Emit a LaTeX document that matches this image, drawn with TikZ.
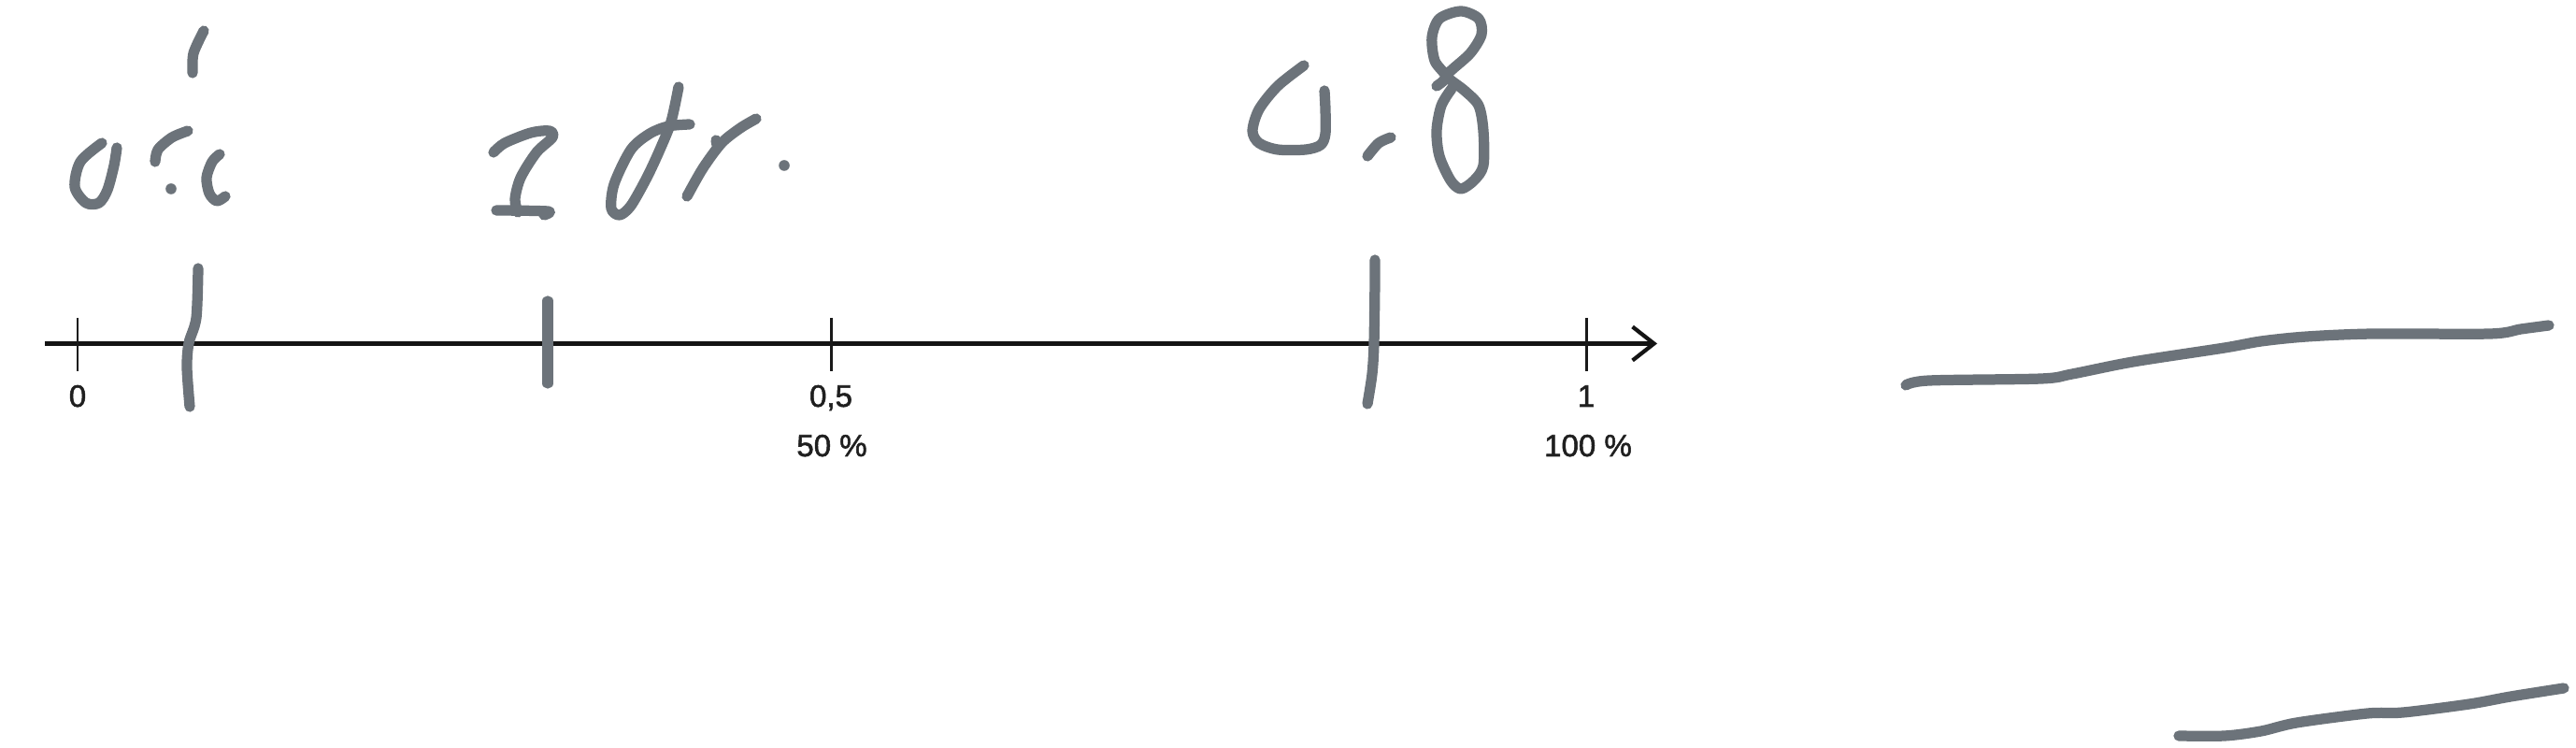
\documentclass[tikz,border=0pt]{standalone}
\usepackage{fontspec}
\setmainfont{Liberation Sans}
\newfontfamily\nlfont{Liberation Sans}[FakeBold=1.6]
\usepackage{xcolor}
\usepackage{tikz}
\usetikzlibrary{arrows.meta}
\definecolor{pengray}{RGB}{108,115,122}
\tikzset{
  nlaxis/.style={line width=1.4pt, draw=black!92, -{Straight Barb[length=2.3mm,width=3.6mm,line width=1.2pt]}},
  nltick/.style={line width=0.85pt, draw=black!90},
  nllabel/.style={font=\nlfont\fontsize{9.4}{11}\selectfont, anchor=base, inner sep=0pt, text=black!88},
  penstroke/.style={line width=3.2pt, draw=pengray, line cap=round, line join=round},
  pendot/.style={fill=pengray, draw=none},
}
\begin{document}
\begin{tikzpicture}
\useasboundingbox (0,0) rectangle (27.56,8.00);
\coordinate (ax0) at (0.48,4.325);
\coordinate (ax1) at (17.73,4.325);
\draw[nlaxis] (ax0) -- (ax1);
\draw[nltick] (0.83,4.60) -- (0.83,4.03);
\draw[nltick] (8.89,4.60) -- (8.89,4.03);
\draw[nltick] (16.97,4.60) -- (16.97,4.03);
\node[nllabel] (lzero) at (0.83,3.65) {0};
\node[nllabel] (lhalf) at (8.89,3.65) {0,5};
\node[nllabel] (lone) at (16.97,3.65) {1};
\node[nllabel] (phalf) at (8.90,3.12) {50 \%};
\node[nllabel] (pone) at (16.99,3.12) {100 \%};
\draw[penstroke] plot[smooth] coordinates {(2.12,5.13) (2.10,4.60) (2.02,4.33) (2.00,4.07) (2.03,3.65)};
\draw[penstroke] (5.86,4.78) -- (5.86,3.90);
\draw[penstroke] plot[smooth] coordinates {(14.71,5.22) (14.71,5.00) (14.70,4.33) (14.68,4.00) (14.63,3.68)};
\draw[penstroke] plot[smooth] coordinates {(1.09,6.47) (0.86,6.27) (0.80,6.00) (0.92,5.83) (1.06,5.83) (1.15,5.97) (1.22,6.23) (1.25,6.42)};
\draw[penstroke] plot[smooth] coordinates {(2.01,6.60) (1.84,6.53) (1.69,6.40) (1.66,6.27)};
\fill[pendot] (1.83,5.98) circle (0.058);
\draw[penstroke] plot[smooth] coordinates {(2.35,6.35) (2.27,6.27) (2.21,6.10) (2.24,5.93) (2.32,5.85) (2.41,5.90)};
\draw[penstroke] plot[smooth] coordinates {(2.18,7.67) (2.07,7.43) (2.06,7.22)};
\draw[penstroke] plot[smooth] coordinates {(5.28,6.37) (5.40,6.47) (5.68,6.58) (5.88,6.60) (5.91,6.53) (5.74,6.37) (5.57,6.10) (5.51,5.87) (5.54,5.73)};
\draw[penstroke] plot[smooth] coordinates {(5.31,5.75) (5.86,5.74) (5.82,5.70)};
\draw[penstroke] plot[smooth] coordinates {(7.26,7.07) (7.18,6.70) (7.06,6.40) (6.92,6.10) (6.75,5.80) (6.63,5.70) (6.54,5.77) (6.57,6.03) (6.75,6.40) (6.95,6.57) (7.15,6.65) (7.38,6.67)};
\draw[penstroke] plot[smooth] coordinates {(7.35,5.90) (7.52,6.20) (7.72,6.47) (7.92,6.63) (8.09,6.73)};
\draw[penstroke] (7.66,6.50) -- (7.67,6.45);
\fill[pendot] (8.39,6.23) circle (0.058);
\draw[penstroke] plot[smooth] coordinates {(13.95,7.30) (13.67,7.08) (13.47,6.83) (13.40,6.60) (13.47,6.47) (13.67,6.40) (13.97,6.40) (14.13,6.45) (14.18,6.57) (14.18,6.83) (14.17,7.03)};
\draw[penstroke] plot[smooth] coordinates {(14.63,6.33) (14.75,6.47) (14.88,6.53)};
\draw[penstroke] plot[smooth] coordinates {(15.37,7.08) (15.47,7.18) (15.35,7.35) (15.32,7.60) (15.40,7.80) (15.63,7.88) (15.82,7.80) (15.85,7.63) (15.73,7.43) (15.53,7.25) (15.48,7.18) (15.67,7.03) (15.82,6.87) (15.87,6.60) (15.87,6.23) (15.77,6.07) (15.63,5.98) (15.52,6.07) (15.40,6.33) (15.37,6.60) (15.42,6.87) (15.53,7.05)};
\draw[penstroke] plot[smooth] coordinates {(20.39,3.88) (20.64,3.93) (21.84,3.95) (22.17,4.00) (22.82,4.13) (23.80,4.28) (24.19,4.35) (24.68,4.40) (25.39,4.43) (26.64,4.43) (26.97,4.48) (27.27,4.52)};
\draw[penstroke] plot[smooth] coordinates {(23.31,0.13) (23.80,0.13) (24.19,0.18) (24.57,0.27) (25.33,0.37) (25.71,0.38) (26.42,0.47) (26.86,0.55) (27.43,0.64)};
\end{tikzpicture}
\end{document}
